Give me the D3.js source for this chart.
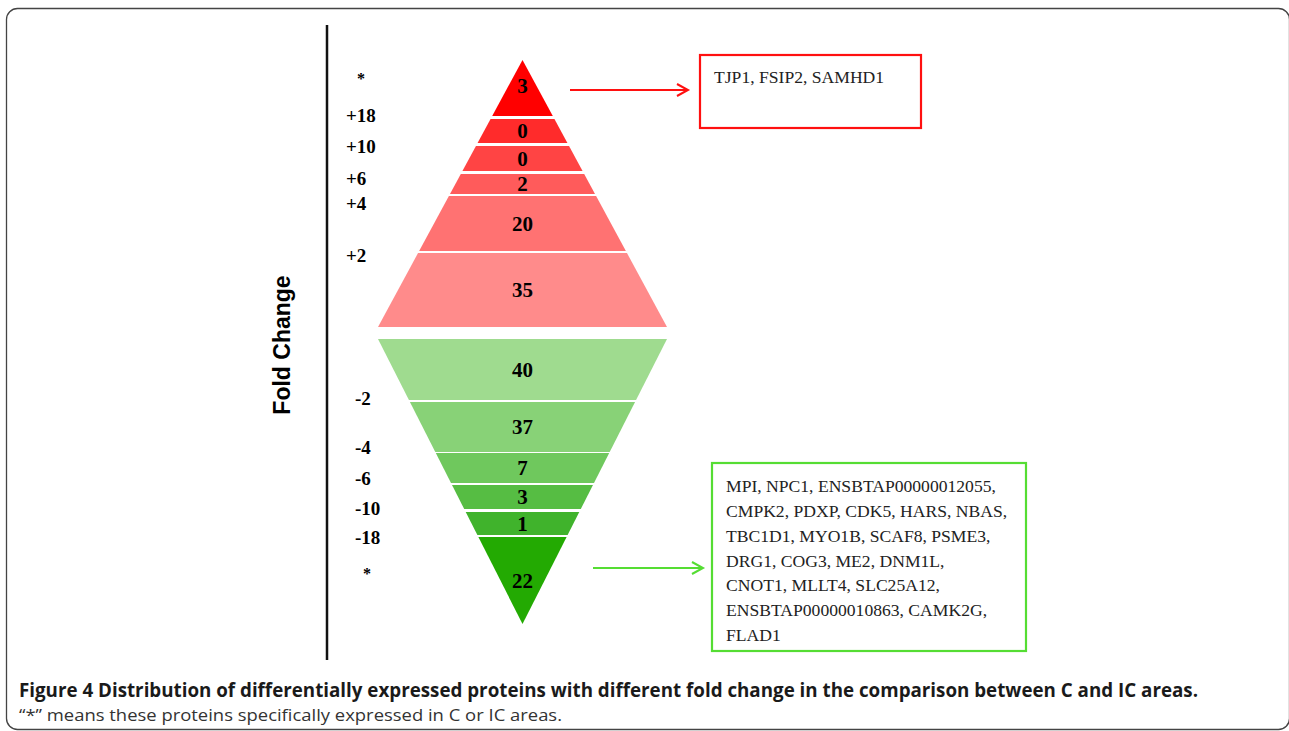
<!DOCTYPE html>
<html>
<head>
<meta charset="utf-8">
<script src="https://cdn.jsdelivr.net/npm/d3@7"></script>
<style>
  html, body { margin: 0; padding: 0; background: #fff; }
  svg { display: block; }
</style>
</head>
<body>
<script>
// ---------------- DATA ----------------
const upLabels   = ["*", "+18", "+10", "+6", "+4", "+2"];
const upCounts   = [3, 0, 0, 2, 20, 35];
const downLabels = ["-2", "-4", "-6", "-10", "-18", "*"];
const downCounts = [40, 37, 7, 3, 1, 22];
const upGenes    = ["TJP1, FSIP2, SAMHD1"];
const downGenes  = [
  "MPI, NPC1, ENSBTAP00000012055,",
  "CMPK2, PDXP, CDK5, HARS, NBAS,",
  "TBC1D1, MYO1B, SCAF8, PSME3,",
  "DRG1, COG3, ME2, DNM1L,",
  "CNOT1, MLLT4, SLC25A12,",
  "ENSBTAP00000010863, CAMK2G,",
  "FLAD1"
];
const axisTitle = "Fold Change";
const captionBold = "Figure 4";
const captionTitle = " Distribution of differentially expressed proteins with different fold change in the comparison between C and IC areas.";
const captionNote = "\u201C*\u201D means these proteins specifically expressed in C or IC areas.";

// ---------------- LAYOUT (diagram units) ----------------
const upColors   = ["#ff0000", "#ff2b2b", "#ff4444", "#ff5b5b", "#ff7272", "#ff8b8b"];
const downColors = ["#9fdb8f", "#88d277", "#6fc85d", "#56bd43", "#40b32c", "#23aa02"];
const upEdges   = [[0,56],[59,83],[86,111],[114,134],[136,191],[193,267]];
const downEdges = [[0,61],[63,113],[114,144],[146,170],[173,196],[198,285]];
const upLabelPos   = [18, 55, 86, 118, 143, 195];
const downLabelPos = [59, 108, 139, 169, 198, 234];

const W = 1289, H = 731;
const cx = 522.5, halfBase = 144.5;

const svg = d3.select("body").append("svg").attr("width", W).attr("height", H);

// frame
svg.append("rect").attr("x", 6.5).attr("y", 8.5).attr("width", 1283).attr("height", 721)
  .attr("rx", 11).attr("fill", "none").attr("stroke", "#444").attr("stroke-width", 1.3);

// scales
const yUp = d3.scaleLinear().domain([0, 267]).range([60, 327]);
const wUp = d3.scaleLinear().domain([0, 267]).range([0, halfBase]);
const yDn = d3.scaleLinear().domain([0, 285]).range([339, 624]);
const wDn = d3.scaleLinear().domain([0, 285]).range([halfBase, 0]);

function bandPath(e, ys, ws) {
  const [a, b] = e;
  const wa = ws(a), wb = ws(b);
  const pts = [[cx - wa, ys(a)], [cx + wa, ys(a)], [cx + wb, ys(b)], [cx - wb, ys(b)]];
  return d3.line()(pts) + "Z";
}

const upData = upCounts.map((c, i) => ({c, e: upEdges[i], col: upColors[i]}));
const dnData = downCounts.map((c, i) => ({c, e: downEdges[i], col: downColors[i]}));

svg.append("g").selectAll("path").data(upData).join("path")
  .attr("d", d => bandPath(d.e, yUp, wUp)).attr("fill", d => d.col);
svg.append("g").selectAll("path").data(dnData).join("path")
  .attr("d", d => bandPath(d.e, yDn, wDn)).attr("fill", d => d.col);

const valFont = "'Liberation Serif', 'Times New Roman', serif";
svg.append("g").selectAll("text").data(upData).join("text")
  .attr("x", cx).attr("y", (d, i) => yUp((d.e[0] + d.e[1]) / 2) + (i === 0 ? -2 : 0))
  .attr("text-anchor", "middle").attr("dy", "0.35em")
  .attr("font-family", valFont).attr("font-weight", "bold").attr("font-size", 21).attr("fill", "#000")
  .text(d => d.c);
svg.append("g").selectAll("text").data(dnData).join("text")
  .attr("x", cx).attr("y", d => yDn((d.e[0] + d.e[1]) / 2))
  .attr("text-anchor", "middle").attr("dy", "0.35em")
  .attr("font-family", valFont).attr("font-weight", "bold").attr("font-size", 21).attr("fill", "#000")
  .text(d => d.c);

// left fold change labels
svg.append("g").selectAll("text").data(upLabels).join("text")
  .attr("x", d => d === "*" ? 361 : 346)
  .attr("text-anchor", d => d === "*" ? "middle" : "start")
  .attr("y", (d, i) => yUp(upLabelPos[i]))
  .attr("dy", "0.35em")
  .attr("font-family", valFont).attr("font-weight", "bold").attr("font-size", d => d === "*" ? 16 : 19)
  .text(d => d);
svg.append("g").selectAll("text").data(downLabels).join("text")
  .attr("x", d => d === "*" ? 367 : 355)
  .attr("text-anchor", d => d === "*" ? "middle" : "start")
  .attr("y", (d, i) => yDn(downLabelPos[i]))
  .attr("dy", "0.35em")
  .attr("font-family", valFont).attr("font-weight", "bold").attr("font-size", d => d === "*" ? 16 : 19)
  .text(d => d);

// axis line
svg.append("line").attr("x1", 327).attr("x2", 327).attr("y1", 25).attr("y2", 660)
  .attr("stroke", "#111").attr("stroke-width", 2.5);

// axis title
svg.append("text").attr("transform", "translate(290,345) rotate(-90)")
  .attr("text-anchor", "middle")
  .attr("font-family", "'Liberation Sans', Arial, sans-serif").attr("font-weight", "bold")
  .attr("font-size", 23).attr("fill", "#000").text(axisTitle);

// arrows
function arrow(x1, x2, y, col) {
  const g = svg.append("g").attr("stroke", col).attr("stroke-width", 2).attr("fill", "none");
  g.append("line").attr("x1", x1).attr("x2", x2).attr("y1", y).attr("y2", y);
  g.append("path").attr("d", `M${x2 - 11},${y - 6} L${x2},${y} L${x2 - 11},${y + 6}`);
}
arrow(570, 688, 90, "#ff1010");
arrow(593, 703, 568, "#55dd33");

// boxes
svg.append("rect").attr("x", 700).attr("y", 55).attr("width", 221).attr("height", 73)
  .attr("fill", "#fff").attr("stroke", "#ff1010").attr("stroke-width", 2.2);
svg.append("rect").attr("x", 712).attr("y", 463).attr("width", 314).attr("height", 188)
  .attr("fill", "#fff").attr("stroke", "#55dd33").attr("stroke-width", 2.2);

svg.append("g").selectAll("text").data(upGenes).join("text")
  .attr("x", 714).attr("y", (d, i) => 77 + i * 25).attr("dy", "0.35em")
  .attr("font-family", valFont).attr("font-size", 17.6).attr("fill", "#222").text(d => d);
svg.append("g").selectAll("text").data(downGenes).join("text")
  .attr("x", 726).attr("y", (d, i) => 486 + i * 24.8).attr("dy", "0.35em")
  .attr("font-family", valFont).attr("font-size", 17.6).attr("fill", "#222").text(d => d);

// caption
const cap = svg.append("text").attr("x", 19).attr("y", 697)
  .attr("font-family", "'Open Sans', 'Noto Sans', sans-serif").attr("font-weight", "bold")
  .attr("font-size", 19.5).attr("fill", "#1a1a1a")
  .attr("textLength", 1179).attr("lengthAdjust", "spacingAndGlyphs");
cap.append("tspan").text(captionBold + captionTitle);

svg.append("text").attr("x", 19).attr("y", 721)
  .attr("font-family", "'Open Sans', 'Noto Sans', sans-serif")
  .attr("font-size", 16.5).attr("fill", "#333")
  .attr("textLength", 543).attr("lengthAdjust", "spacingAndGlyphs")
  .text(captionNote);
</script>
</body>
</html>
